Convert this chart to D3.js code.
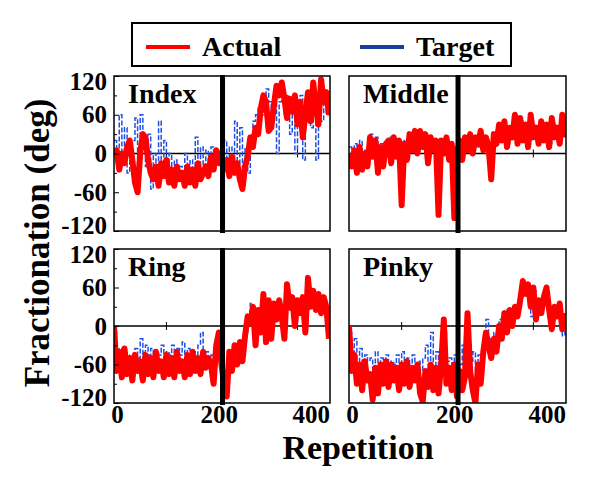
<!DOCTYPE html>
<html>
<head>
<meta charset="utf-8">
<script src="https://d3js.org/d3.v7.min.js"></script>
<style>
  body { margin: 0; background: #fff; }
  text { font-family: "Liberation Serif", "DejaVu Serif", serif; font-weight: bold; }
</style>
</head>
<body>
<svg id="chart" width="600" height="495"></svg>
<script>
// data, one value every 5 repetitions
const repetitions = d3.range(0, 411, 5);
const yTicks = [-120, -60, 0, 60, 120];
const yMinorTicks = [-90, -30, 30, 90];
const xTicks = [0, 200, 400];
const zeroTicks = [100, 350];
const switchRep = 207;
const fingers = ["Index", "Middle", "Ring", "Pinky"];
const seriesNames = ["Actual", "Target"];

const indexActual = [-5,5,-25,0,-15,10,20,-10,-45,-60,
  0,30,25,-10,-30,-40,-20,-50,-15,-35,
  -10,-45,-25,-50,-20,-40,-30,-50,-20,-45,
  -25,-50,-15,-40,-30,-20,-35,-5,-25,5,
  -15,0,-25,-10,-35,-5,-30,-15,-40,-55,
  -20,-5,25,10,40,30,70,90,80,35,
  40,75,105,90,110,85,55,85,65,90,
  45,80,25,60,95,50,110,70,45,115,
  80,95,60];
const indexTarget = [20,-20,60,-10,40,-30,15,20,55,-40,
  60,10,-20,30,-55,0,-40,50,-30,20,
  -40,0,-30,-10,-40,-20,-45,0,-30,-10,
  -40,25,-30,10,-20,5,-25,10,-15,5,
  -10,0,20,-20,10,-30,50,-20,40,-50,
  10,-30,30,50,60,70,90,60,100,80,
  60,90,0,80,100,60,90,30,80,0,
  70,90,-10,60,80,40,90,-10,70,50,
  80,60,70];

const middleActual = [0,-20,5,-30,10,-25,0,-20,25,-5,
  20,-30,10,-20,15,20,-15,25,-5,20,
  -80,15,-10,30,5,35,0,35,10,30,
  -15,25,5,20,-95,20,0,25,-10,15,
  -100,0,20,-10,25,5,30,0,25,15,
  35,5,25,10,-40,30,15,45,20,50,
  10,40,25,60,15,55,20,45,10,60,
  25,40,15,50,20,45,10,55,25,40,
  15,60,25];
const middleTarget = [10,-10,15,-20,20,-15,5,-10,30,0,
  25,-20,15,-10,20,25,-5,20,0,15,
  -5,20,-5,25,10,30,5,30,15,25,
  -10,20,10,15,0,15,5,20,-5,10,
  0,5,15,-5,20,10,25,5,20,10,
  30,10,20,15,5,25,20,40,25,45,
  15,35,30,55,20,50,25,40,15,55,
  30,35,20,45,25,40,15,50,30,35,
  20,55,30];

const ringActual = [0,-70,-40,-80,-35,-75,-50,-85,-45,-70,
  -55,-85,-45,-75,-50,-80,-40,-70,-55,-80,
  -45,-75,-50,-80,-40,-70,-55,-80,-45,-75,
  -40,-70,-50,-75,-40,-65,-50,-60,-90,-30,
  -10,-60,-90,-110,-40,-70,-30,-60,-25,-55,
  -15,15,5,30,-30,25,-10,50,-25,40,
  -20,35,10,40,15,-20,65,30,45,0,
  40,20,45,-10,75,30,55,25,50,20,
  45,30,-20];
const ringTarget = [-10,-55,-35,-60,-40,-50,-45,-55,-35,-50,
  -20,-50,-30,-45,-35,-50,-40,-45,-30,-50,
  -40,-45,-30,-55,-35,-45,-25,-50,-35,-45,
  -40,-50,-30,-10,-45,-40,-50,-45,-60,-35,
  -20,-55,-70,-60,-45,-55,-35,-50,-30,-45,
  -10,10,35,20,-15,20,0,40,-10,30,
  -5,30,15,35,5,-5,55,25,40,5,
  35,25,40,5,60,30,45,30,40,25,
  35,25,-10];

const pinkyActual = [0,-70,-45,-90,-60,-100,-55,-85,-75,-115,
  -65,-105,-60,-90,-55,-95,-60,-85,-65,-100,
  -60,-90,-55,-95,-65,-85,-60,-105,-118,-70,
  -95,-60,-100,-65,-105,-60,10,-90,-65,-100,
  -60,-110,-70,-100,-80,20,-70,-100,-120,-60,
  -90,-40,-10,-30,-50,-20,-40,0,-20,20,
  -10,25,0,30,15,40,70,50,65,30,
  60,10,40,20,45,60,25,-5,30,15,
  35,-5,20];
const pinkyTarget = [-10,-40,-20,-60,-35,-70,-45,-55,-50,-75,
  -40,-70,-50,-60,-45,-65,-55,-60,-45,-70,
  -40,-65,-50,-70,-45,-60,-55,-70,-50,-30,
  -60,-10,-65,-40,-60,-30,-10,-55,-50,-60,
  -45,-70,-60,-30,-70,-20,-55,-40,-70,-45,
  -60,-20,10,-20,-40,-10,-30,10,-10,25,
  0,20,10,25,20,45,60,55,60,15,
  55,20,35,30,40,50,30,5,25,20,
  30,-15,15];

const actualSeries = [indexActual, middleActual, ringActual, pinkyActual];
const targetSeries = [indexTarget, middleTarget, ringTarget, pinkyTarget];

const red = "#ff0000";
const blue = "#1f4fe6";
const legendBlue = "#1b3c9e";

const svg = d3.select("#chart");
svg.append("rect").attr("width", 600).attr("height", 495).attr("fill", "#fff");

// panel layout
const cols = [[114, 330], [349, 566]];
const rows = [[76, 231], [249, 403]];

fingers.forEach((name, i) => {
    const [x0, x1] = cols[i % 2];
    const [y0, y1] = rows[Math.floor(i / 2)];

    const x = d3.scaleLinear().domain([0, 412]).range([x0, x1]);
    const y = d3.scaleLinear().domain([-120, 120]).range([y1, y0]);

    const g = svg.append("g");

    g.append("clipPath").attr("id", "clip" + i)
        .append("rect")
        .attr("x", x0).attr("y", y0)
        .attr("width", x1 - x0).attr("height", y1 - y0);

    // zero line with a couple of small ticks
    g.append("line")
        .attr("x1", x0).attr("x2", x1)
        .attr("y1", y(0)).attr("y2", y(0))
        .attr("stroke", "#000").attr("stroke-width", 1.5);
    g.selectAll(".zt").data(zeroTicks).enter().append("line")
        .attr("x1", d => x(d)).attr("x2", d => x(d))
        .attr("y1", y(0) - 4).attr("y2", y(0) + 4)
        .attr("stroke", "#000").attr("stroke-width", 1);

    const plot = g.append("g").attr("clip-path", `url(#clip${i})`);

    const targetLine = d3.line()
        .x((d, k) => x(repetitions[k]))
        .y(d => y(d))
        .curve(d3.curveStepAfter);

    const actualLine = d3.line()
        .x((d, k) => x(repetitions[k]))
        .y(d => y(d));

    plot.append("path")
        .attr("d", targetLine(targetSeries[i]))
        .attr("fill", "none")
        .attr("stroke", blue)
        .attr("stroke-width", 1.5)
        .attr("stroke-dasharray", "5,2");

    plot.append("path")
        .attr("d", actualLine(actualSeries[i]))
        .attr("fill", "none")
        .attr("stroke", red)
        .attr("stroke-width", 6)
        .attr("stroke-linejoin", "round");

    // thick black divider at the switch
    g.append("line")
        .attr("x1", x(switchRep)).attr("x2", x(switchRep))
        .attr("y1", y0 - 1).attr("y2", y1 + 2)
        .attr("stroke", "#000").attr("stroke-width", 5);

    g.append("rect")
        .attr("x", x0).attr("y", y0)
        .attr("width", x1 - x0).attr("height", y1 - y0)
        .attr("fill", "none").attr("stroke", "#000").attr("stroke-width", 1.5);

    g.append("text")
        .attr("x", x0 + 14).attr("y", y0 + 27)
        .attr("font-size", 28)
        .text(name);

    // y axis on left column only
    if (i % 2 === 0) {
        const ay = g.append("g")
            .attr("transform", `translate(${x0},0)`)
            .call(d3.axisLeft(y).tickValues(yTicks).tickSize(-5).tickPadding(7)
                .tickFormat(d => String(d)));
        ay.select(".domain").remove();
        ay.attr("font-size", 25).attr("font-family", null);
        // end labels are nudged inward, as in the figure
        ay.selectAll("text").attr("fill", "#000")
            .attr("y", d => d === 120 ? 5 : (d === -120 ? -6 : 0));

        const my = g.append("g")
            .attr("transform", `translate(${x0},0)`)
            .call(d3.axisLeft(y).tickValues(yMinorTicks).tickSize(-3).tickFormat(""));
        my.select(".domain").remove();
    }

    // x tick labels under the bottom row
    if (i >= 2) {
        const ax = g.append("g")
            .attr("transform", `translate(0,${y1})`)
            .call(d3.axisBottom(x).tickValues(xTicks).tickSize(0).tickPadding(2)
                .tickFormat(d => String(d)));
        ax.select(".domain").remove();
        ax.attr("font-size", 25).attr("font-family", null);
        ax.selectAll("text").attr("fill", "#000")
            .attr("dx", d => d === 400 ? -13 : (d === 0 ? 3 : 0));
    }
});

// legend
const legend = svg.append("g");
legend.append("rect")
    .attr("x", 132).attr("y", 23)
    .attr("width", 379).attr("height", 43)
    .attr("fill", "#fff").attr("stroke", "#000").attr("stroke-width", 2);

const legendItems = legend.selectAll(".item")
    .data(seriesNames)
    .enter().append("g")
    .attr("transform", (d, k) => `translate(${146 + k * 214}, 47)`);

legendItems.append("line")
    .attr("x1", 0).attr("x2", 44)
    .attr("y1", 0).attr("y2", 0)
    .attr("stroke", (d, k) => k === 0 ? red : legendBlue)
    .attr("stroke-width", 4);

legendItems.append("text")
    .attr("x", 56).attr("y", 9)
    .attr("font-size", 28)
    .text(d => d);

// axis titles
svg.append("text")
    .attr("transform", "translate(49,243) rotate(-90)")
    .attr("text-anchor", "middle")
    .attr("font-size", 35)
    .text("Fractionation (deg)");

svg.append("text")
    .attr("x", 358).attr("y", 459)
    .attr("text-anchor", "middle")
    .attr("font-size", 34)
    .text("Repetition");
</script>
</body>
</html>
